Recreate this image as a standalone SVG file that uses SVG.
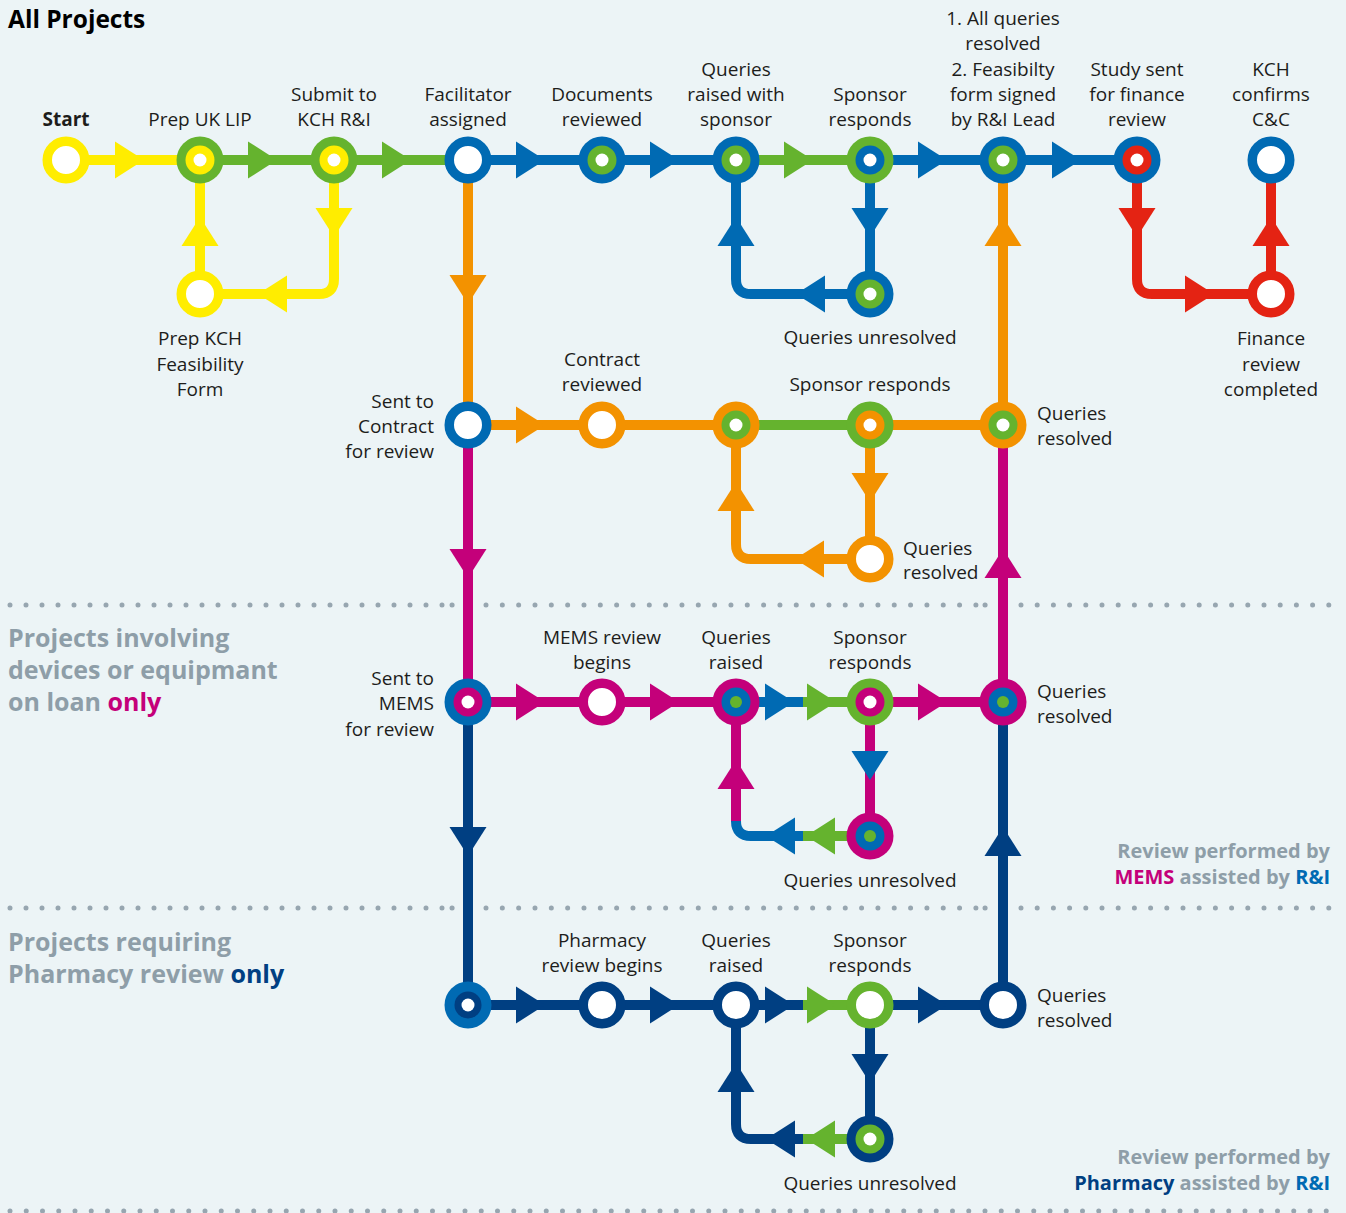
<svg xmlns="http://www.w3.org/2000/svg" xmlns:xlink="http://www.w3.org/1999/xlink" width="1346" height="1213" viewBox="0 0 1346 1213">
<style>
.t{font-family:"Open Sans","Noto Sans","DejaVu Sans",sans-serif;font-size:19px;fill:#1d1d1b}
.c{text-anchor:middle}.r{text-anchor:end}
.b{font-weight:700}
.g{font-family:"Open Sans","Noto Sans","DejaVu Sans",sans-serif;font-size:25px;font-weight:700;fill:#8e9ea8}
.rv{font-family:"Open Sans","Noto Sans","DejaVu Sans",sans-serif;font-size:20px;font-weight:700;fill:#8e9ea8;text-anchor:end}
.ln{fill:none;stroke-width:10}
.ring{fill:#fff;stroke-width:9.5}
.dots{stroke:#97a6b0;stroke-width:5;stroke-linecap:round;fill:none}
.Y{stroke:#ffed00}.G{stroke:#65b32e}.B{stroke:#006ab3}.O{stroke:#f39200}.M{stroke:#c4007a}.N{stroke:#003f82}.R{stroke:#e42313}
.fY{fill:#ffed00}.fG{fill:#65b32e}.fB{fill:#006ab3}.fO{fill:#f39200}.fM{fill:#c4007a}.fN{fill:#003f82}.fR{fill:#e42313}.fW{fill:#fff}
</style>
<defs>
<path id="ar" d="M0,-18.5 L29,0 L0,18.5 Z"/>
</defs>
<rect x="0" y="0" width="1346" height="1213" fill="#ecf4f6"/>

<g id="separators">
<line class="dots" x1="10" y1="605" x2="442.1" y2="605" stroke-dasharray="0 16"/>
<line class="dots" x1="452" y1="605" x2="452.1" y2="605"/>
<line class="dots" x1="486" y1="605" x2="976.2" y2="605" stroke-dasharray="0 16.33"/>
<line class="dots" x1="985" y1="605" x2="985.1" y2="605"/>
<line class="dots" x1="1021" y1="605" x2="1329.1" y2="605" stroke-dasharray="0 16.2"/>
<line class="dots" x1="10" y1="908" x2="442.1" y2="908" stroke-dasharray="0 16"/>
<line class="dots" x1="452" y1="908" x2="452.1" y2="908"/>
<line class="dots" x1="486" y1="908" x2="976.2" y2="908" stroke-dasharray="0 16.33"/>
<line class="dots" x1="985" y1="908" x2="985.1" y2="908"/>
<line class="dots" x1="1021" y1="908" x2="1329.1" y2="908" stroke-dasharray="0 16.2"/>
<line class="dots" x1="10" y1="1211" x2="1326.4" y2="1211" stroke-dasharray="0 16.25"/>
</g>

<g id="section-labels">
<text class="g" x="8" y="28" style="fill:#000;font-size:24.5px">All Projects</text>
<text class="g" x="8" y="647">Projects involving</text>
<text class="g" x="8" y="679">devices or equipmant</text>
<text class="g" x="8" y="711">on loan <tspan style="fill:#c4007a">only</tspan></text>
<text class="g" x="8" y="951">Projects requiring</text>
<text class="g" x="8" y="983">Pharmacy review <tspan style="fill:#003f82">only</tspan></text>
<text class="rv" x="1330" y="858">Review performed by</text>
<text class="rv" x="1330" y="884"><tspan style="fill:#c4007a">MEMS</tspan> assisted by <tspan style="fill:#006ab3">R&amp;I</tspan></text>
<text class="rv" x="1330" y="1164">Review performed by</text>
<text class="rv" x="1330" y="1190"><tspan style="fill:#003f82">Pharmacy</tspan> assisted by <tspan style="fill:#006ab3">R&amp;I</tspan></text>
</g>

<g id="connectors">
<path class="ln Y" d="M66,160 H200 M200,160 V294 M334,160 V279 Q334,294 319,294 H200"/>
<path class="ln G" d="M200,160 H468 M736,160 H870"/>
<path class="ln B" d="M468,160 H736 M870,160 H1137 M870,160 V294 M870,294 H751 Q736,294 736,279 V160"/>
<path class="ln R" d="M1137,160 V279 Q1137,294 1152,294 H1271 V160"/>
<path class="ln O" d="M468,160 V425 M468,425 H736 M870,425 H1003 M1003,425 V160 M870,425 V559 H751 Q736,559 736,544 V425"/>
<path class="ln G" d="M736,425 H870"/>
<path class="ln M" d="M468,425 V702 M1003,425 V702 M468,702 H736 M870,702 H1003 M870,702 V836 M736,822 V702"/>
<path class="ln B" d="M736,702 H804 M804,836 H751 Q736,836 736,821"/>
<path class="ln G" d="M803,702 H870 M870,836 H803"/>
<path class="ln N" d="M468,702 V1005 M1003,702 V1005 M468,1005 H804 M870,1005 H1003 M870,1005 V1139 M804,1139 H751 Q736,1139 736,1124 V1005"/>
<path class="ln G" d="M803,1005 H870 M870,1139 H803"/>
<use xlink:href="#ar" class="fY" transform="translate(115,160)"/>
<use xlink:href="#ar" class="fG" transform="translate(248,160)"/>
<use xlink:href="#ar" class="fG" transform="translate(382,160)"/>
<use xlink:href="#ar" class="fB" transform="translate(516,160)"/>
<use xlink:href="#ar" class="fB" transform="translate(650,160)"/>
<use xlink:href="#ar" class="fG" transform="translate(784,160)"/>
<use xlink:href="#ar" class="fB" transform="translate(918,160)"/>
<use xlink:href="#ar" class="fB" transform="translate(1052,160)"/>
<use xlink:href="#ar" class="fY" transform="translate(200,246) rotate(-90)"/>
<use xlink:href="#ar" class="fY" transform="translate(334,208) rotate(90)"/>
<use xlink:href="#ar" class="fY" transform="translate(287,294) rotate(180)"/>
<use xlink:href="#ar" class="fB" transform="translate(870,208) rotate(90)"/>
<use xlink:href="#ar" class="fB" transform="translate(825,294) rotate(180)"/>
<use xlink:href="#ar" class="fB" transform="translate(736,246) rotate(-90)"/>
<use xlink:href="#ar" class="fR" transform="translate(1137,208) rotate(90)"/>
<use xlink:href="#ar" class="fR" transform="translate(1185,294)"/>
<use xlink:href="#ar" class="fR" transform="translate(1271,246) rotate(-90)"/>
<use xlink:href="#ar" class="fO" transform="translate(468,275) rotate(90)"/>
<use xlink:href="#ar" class="fO" transform="translate(1003,246) rotate(-90)"/>
<use xlink:href="#ar" class="fO" transform="translate(516,425)"/>
<use xlink:href="#ar" class="fO" transform="translate(870,473) rotate(90)"/>
<use xlink:href="#ar" class="fO" transform="translate(824,559) rotate(180)"/>
<use xlink:href="#ar" class="fO" transform="translate(736,511) rotate(-90)"/>
<use xlink:href="#ar" class="fM" transform="translate(468,549) rotate(90)"/>
<use xlink:href="#ar" class="fM" transform="translate(1003,578) rotate(-90)"/>
<use xlink:href="#ar" class="fM" transform="translate(516,702)"/>
<use xlink:href="#ar" class="fM" transform="translate(650,702)"/>
<use xlink:href="#ar" class="fB" transform="translate(765,702)"/>
<use xlink:href="#ar" class="fG" transform="translate(807,702)"/>
<use xlink:href="#ar" class="fM" transform="translate(918,702)"/>
<use xlink:href="#ar" class="fB" transform="translate(870,751) rotate(90)"/>
<use xlink:href="#ar" class="fG" transform="translate(835,836) rotate(180)"/>
<use xlink:href="#ar" class="fB" transform="translate(795,836) rotate(180)"/>
<use xlink:href="#ar" class="fM" transform="translate(736,789) rotate(-90)"/>
<use xlink:href="#ar" class="fN" transform="translate(468,827) rotate(90)"/>
<use xlink:href="#ar" class="fN" transform="translate(1003,856) rotate(-90)"/>
<use xlink:href="#ar" class="fN" transform="translate(516,1005)"/>
<use xlink:href="#ar" class="fN" transform="translate(650,1005)"/>
<use xlink:href="#ar" class="fN" transform="translate(765,1005)"/>
<use xlink:href="#ar" class="fG" transform="translate(807,1005)"/>
<use xlink:href="#ar" class="fN" transform="translate(918,1005)"/>
<use xlink:href="#ar" class="fN" transform="translate(870,1054) rotate(90)"/>
<use xlink:href="#ar" class="fG" transform="translate(835,1139) rotate(180)"/>
<use xlink:href="#ar" class="fN" transform="translate(795,1139) rotate(180)"/>
<use xlink:href="#ar" class="fN" transform="translate(736,1092) rotate(-90)"/>
</g>

<g id="n-start"><circle class="ring Y" cx="66" cy="160" r="18.75"/><text class="t c b" x="66" y="126">Start</text></g>
<g id="n-prep-uk-lip"><circle class="fG" cx="200" cy="160" r="23.5"/><circle class="fY" cx="200" cy="160" r="14.5"/><circle class="fW" cx="200" cy="160" r="6.5"/><text class="t c" x="200" y="126">Prep UK LIP</text></g>
<g id="n-prep-kch"><circle class="ring Y" cx="200" cy="294" r="18.75"/><text class="t c" x="200" y="345">Prep KCH</text><text class="t c" x="200" y="371">Feasibility</text><text class="t c" x="200" y="396">Form</text></g>
<g id="n-submit"><circle class="fG" cx="334" cy="160" r="23.5"/><circle class="fY" cx="334" cy="160" r="14.5"/><circle class="fW" cx="334" cy="160" r="6.5"/><text class="t c" x="334" y="101">Submit to</text><text class="t c" x="334" y="126">KCH R&amp;I</text></g>
<g id="n-facilitator"><circle class="ring B" cx="468" cy="160" r="18.75"/><text class="t c" x="468" y="101">Facilitator</text><text class="t c" x="468" y="126">assigned</text></g>
<g id="n-documents"><circle class="fB" cx="602" cy="160" r="23.5"/><circle class="fG" cx="602" cy="160" r="14.5"/><circle class="fW" cx="602" cy="160" r="6.5"/><text class="t c" x="602" y="101">Documents</text><text class="t c" x="602" y="126">reviewed</text></g>
<g id="n-queries-raised"><circle class="fB" cx="736" cy="160" r="23.5"/><circle class="fG" cx="736" cy="160" r="14.5"/><circle class="fW" cx="736" cy="160" r="6.5"/><text class="t c" x="736" y="76">Queries</text><text class="t c" x="736" y="101">raised with</text><text class="t c" x="736" y="126">sponsor</text></g>
<g id="n-sponsor-responds"><circle class="fG" cx="870" cy="160" r="23.5"/><circle class="fB" cx="870" cy="160" r="14.5"/><circle class="fW" cx="870" cy="160" r="6.5"/><text class="t c" x="870" y="101">Sponsor</text><text class="t c" x="870" y="126">responds</text></g>
<g id="n-queries-unresolved"><circle class="fB" cx="870" cy="294" r="23.5"/><circle class="fG" cx="870" cy="294" r="14.5"/><circle class="fW" cx="870" cy="294" r="6.5"/><text class="t c" x="870" y="344">Queries unresolved</text></g>
<g id="n-all-resolved"><circle class="fB" cx="1003" cy="160" r="23.5"/><circle class="fG" cx="1003" cy="160" r="14.5"/><circle class="fW" cx="1003" cy="160" r="6.5"/><text class="t c" x="1003" y="25">1. All queries</text><text class="t c" x="1003" y="50">resolved</text><text class="t c" x="1003" y="76">2. Feasibilty</text><text class="t c" x="1003" y="101">form signed</text><text class="t c" x="1003" y="126">by R&amp;I Lead</text></g>
<g id="n-finance-sent"><circle class="fB" cx="1137" cy="160" r="23.5"/><circle class="fR" cx="1137" cy="160" r="14.5"/><circle class="fW" cx="1137" cy="160" r="6.5"/><text class="t c" x="1137" y="76">Study sent</text><text class="t c" x="1137" y="101">for finance</text><text class="t c" x="1137" y="126">review</text></g>
<g id="n-kch-confirms"><circle class="ring B" cx="1271" cy="160" r="18.75"/><text class="t c" x="1271" y="76">KCH</text><text class="t c" x="1271" y="101">confirms</text><text class="t c" x="1271" y="126">C&amp;C</text></g>
<g id="n-finance-completed"><circle class="ring R" cx="1271" cy="294" r="18.75"/><text class="t c" x="1271" y="345">Finance</text><text class="t c" x="1271" y="371">review</text><text class="t c" x="1271" y="396">completed</text></g>

<g id="n-contract"><circle class="ring B" cx="468" cy="425" r="18.75"/><text class="t r" x="434" y="408">Sent to</text><text class="t r" x="434" y="433">Contract</text><text class="t r" x="434" y="458">for review</text></g>
<g id="n-contract-reviewed"><circle class="ring O" cx="602" cy="425" r="18.75"/><text class="t c" x="602" y="366">Contract</text><text class="t c" x="602" y="391">reviewed</text></g>
<g id="n-c-queries"><circle class="fO" cx="736" cy="425" r="23.5"/><circle class="fG" cx="736" cy="425" r="14.5"/><circle class="fW" cx="736" cy="425" r="6.5"/></g>
<g id="n-c-sponsor"><circle class="fG" cx="870" cy="425" r="23.5"/><circle class="fO" cx="870" cy="425" r="14.5"/><circle class="fW" cx="870" cy="425" r="6.5"/><text class="t c" x="870" y="391">Sponsor responds</text></g>
<g id="n-c-resolved"><circle class="fO" cx="1003" cy="425" r="23.5"/><circle class="fG" cx="1003" cy="425" r="14.5"/><circle class="fW" cx="1003" cy="425" r="6.5"/><text class="t" x="1037" y="420">Queries</text><text class="t" x="1037" y="445">resolved</text></g>
<g id="n-c-loop"><circle class="ring O" cx="870" cy="559" r="18.75"/><text class="t" x="903" y="555">Queries</text><text class="t" x="903" y="579">resolved</text></g>

<g id="n-mems"><circle class="fB" cx="468" cy="702" r="23.5"/><circle class="fM" cx="468" cy="702" r="14.5"/><circle class="fW" cx="468" cy="702" r="6.5"/><text class="t r" x="434" y="685">Sent to</text><text class="t r" x="434" y="710">MEMS</text><text class="t r" x="434" y="736">for review</text></g>
<g id="n-mems-begins"><circle class="ring M" cx="602" cy="702" r="18.75"/><text class="t c" x="602" y="644">MEMS review</text><text class="t c" x="602" y="669">begins</text></g>
<g id="n-m-queries"><circle class="fM" cx="736" cy="702" r="23.5"/><circle class="fB" cx="736" cy="702" r="14.5"/><circle class="fG" cx="736" cy="702" r="6"/><text class="t c" x="736" y="644">Queries</text><text class="t c" x="736" y="669">raised</text></g>
<g id="n-m-sponsor"><circle class="fG" cx="870" cy="702" r="23.5"/><circle class="fM" cx="870" cy="702" r="14.5"/><circle class="fW" cx="870" cy="702" r="6.5"/><text class="t c" x="870" y="644">Sponsor</text><text class="t c" x="870" y="669">responds</text></g>
<g id="n-m-resolved"><circle class="fM" cx="1003" cy="702" r="23.5"/><circle class="fB" cx="1003" cy="702" r="14.5"/><circle class="fG" cx="1003" cy="702" r="6"/><text class="t" x="1037" y="698">Queries</text><text class="t" x="1037" y="723">resolved</text></g>
<g id="n-m-unresolved"><circle class="fM" cx="870" cy="836" r="23.5"/><circle class="fB" cx="870" cy="836" r="14.5"/><circle class="fG" cx="870" cy="836" r="6"/><text class="t c" x="870" y="887">Queries unresolved</text></g>

<g id="n-pharmacy"><circle class="fB" cx="468" cy="1005" r="23.5"/><circle class="fN" cx="468" cy="1005" r="13.5"/><circle class="fW" cx="468" cy="1005" r="6.5"/></g>
<g id="n-p-begins"><circle class="ring N" cx="602" cy="1005" r="18.75"/><text class="t c" x="602" y="947">Pharmacy</text><text class="t c" x="602" y="972">review begins</text></g>
<g id="n-p-queries"><circle class="ring N" cx="736" cy="1005" r="18.75"/><text class="t c" x="736" y="947">Queries</text><text class="t c" x="736" y="972">raised</text></g>
<g id="n-p-sponsor"><circle class="ring G" cx="870" cy="1005" r="18.75"/><text class="t c" x="870" y="947">Sponsor</text><text class="t c" x="870" y="972">responds</text></g>
<g id="n-p-resolved"><circle class="ring N" cx="1003" cy="1005" r="18.75"/><text class="t" x="1037" y="1002">Queries</text><text class="t" x="1037" y="1027">resolved</text></g>
<g id="n-p-unresolved"><circle class="fN" cx="870" cy="1139" r="23.5"/><circle class="fG" cx="870" cy="1139" r="14.5"/><circle class="fW" cx="870" cy="1139" r="6.5"/><text class="t c" x="870" y="1190">Queries unresolved</text></g>
</svg>
